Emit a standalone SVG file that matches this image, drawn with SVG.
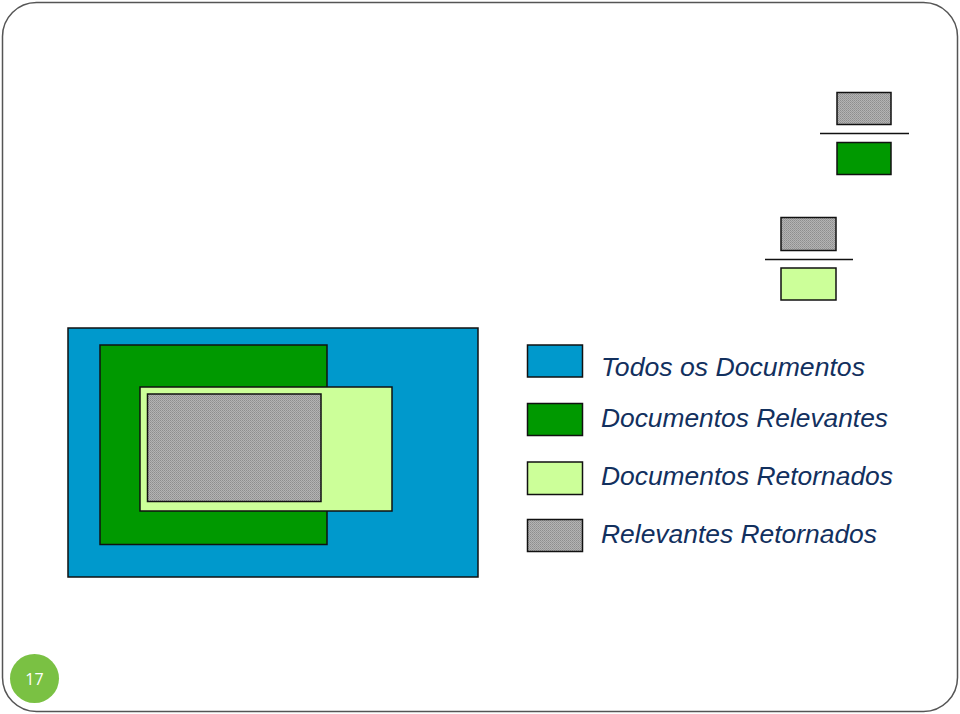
<svg xmlns="http://www.w3.org/2000/svg" width="960" height="714" viewBox="0 0 960 714">
<defs>
<pattern id="dots" width="2" height="2" patternUnits="userSpaceOnUse">
<rect width="2" height="2" fill="#b4b4b4"/>
<rect width="1" height="1" fill="#8e8e8e"/>
<rect x="1" y="1" width="1" height="1" fill="#9a9a9a"/>
</pattern>
</defs>
<style>
.b{stroke:#111;stroke-width:1.5}
.all{fill:#0099cc}
.rel{fill:#009900}
.ret{fill:#ccff99}
.rr{fill:url(#dots)}
.lbl{font-family:"Liberation Sans",Arial,sans-serif;font-style:italic;font-size:26.3px;fill:#12305e}
.ln{stroke:#111;stroke-width:1.5}
</style>
<rect x="2.5" y="2.5" width="955" height="709" rx="34" ry="34" fill="#fff" stroke="#555" stroke-width="1.5"/>
<g id="venn">
<rect class="b all" x="68" y="328" width="410" height="249"/>
<rect class="b rel" x="100" y="345" width="227" height="199.5"/>
<rect class="b ret" x="140" y="387" width="252" height="124"/>
<rect class="b rr" x="147.5" y="394" width="173.5" height="107.5"/>
</g>
<g id="precision">
<rect class="b rr" x="837" y="92.5" width="54" height="32"/>
<line class="ln" x1="820" y1="133.5" x2="909" y2="133.5"/>
<rect class="b rel" x="837" y="142.5" width="54" height="32"/>
</g>
<g id="recall">
<rect class="b rr" x="781" y="217.5" width="55" height="33"/>
<line class="ln" x1="765" y1="259.5" x2="853" y2="259.5"/>
<rect class="b ret" x="781" y="268" width="55" height="32"/>
</g>
<g id="legend">
<rect class="b all" x="527.5" y="345" width="55" height="32"/>
<rect class="b rel" x="527.5" y="403.5" width="55" height="32"/>
<rect class="b ret" x="527.5" y="462" width="55" height="32.5"/>
<rect class="b rr" x="527.5" y="519.5" width="55" height="32"/>
<text class="lbl" x="601" y="376" textLength="264" lengthAdjust="spacingAndGlyphs">Todos os Documentos</text>
<text class="lbl" x="601" y="426.5" textLength="287" lengthAdjust="spacingAndGlyphs">Documentos Relevantes</text>
<text class="lbl" x="601" y="485" textLength="292" lengthAdjust="spacingAndGlyphs">Documentos Retornados</text>
<text class="lbl" x="601" y="543" textLength="276" lengthAdjust="spacingAndGlyphs">Relevantes Retornados</text>
</g>
<g id="page">
<circle cx="34.5" cy="678.5" r="24.5" fill="#7ac143"/>
<text x="34.5" y="684.5" text-anchor="middle" font-family="Open Sans,Liberation Sans,sans-serif" font-size="16" fill="#fff">17</text>
</g>
</svg>
